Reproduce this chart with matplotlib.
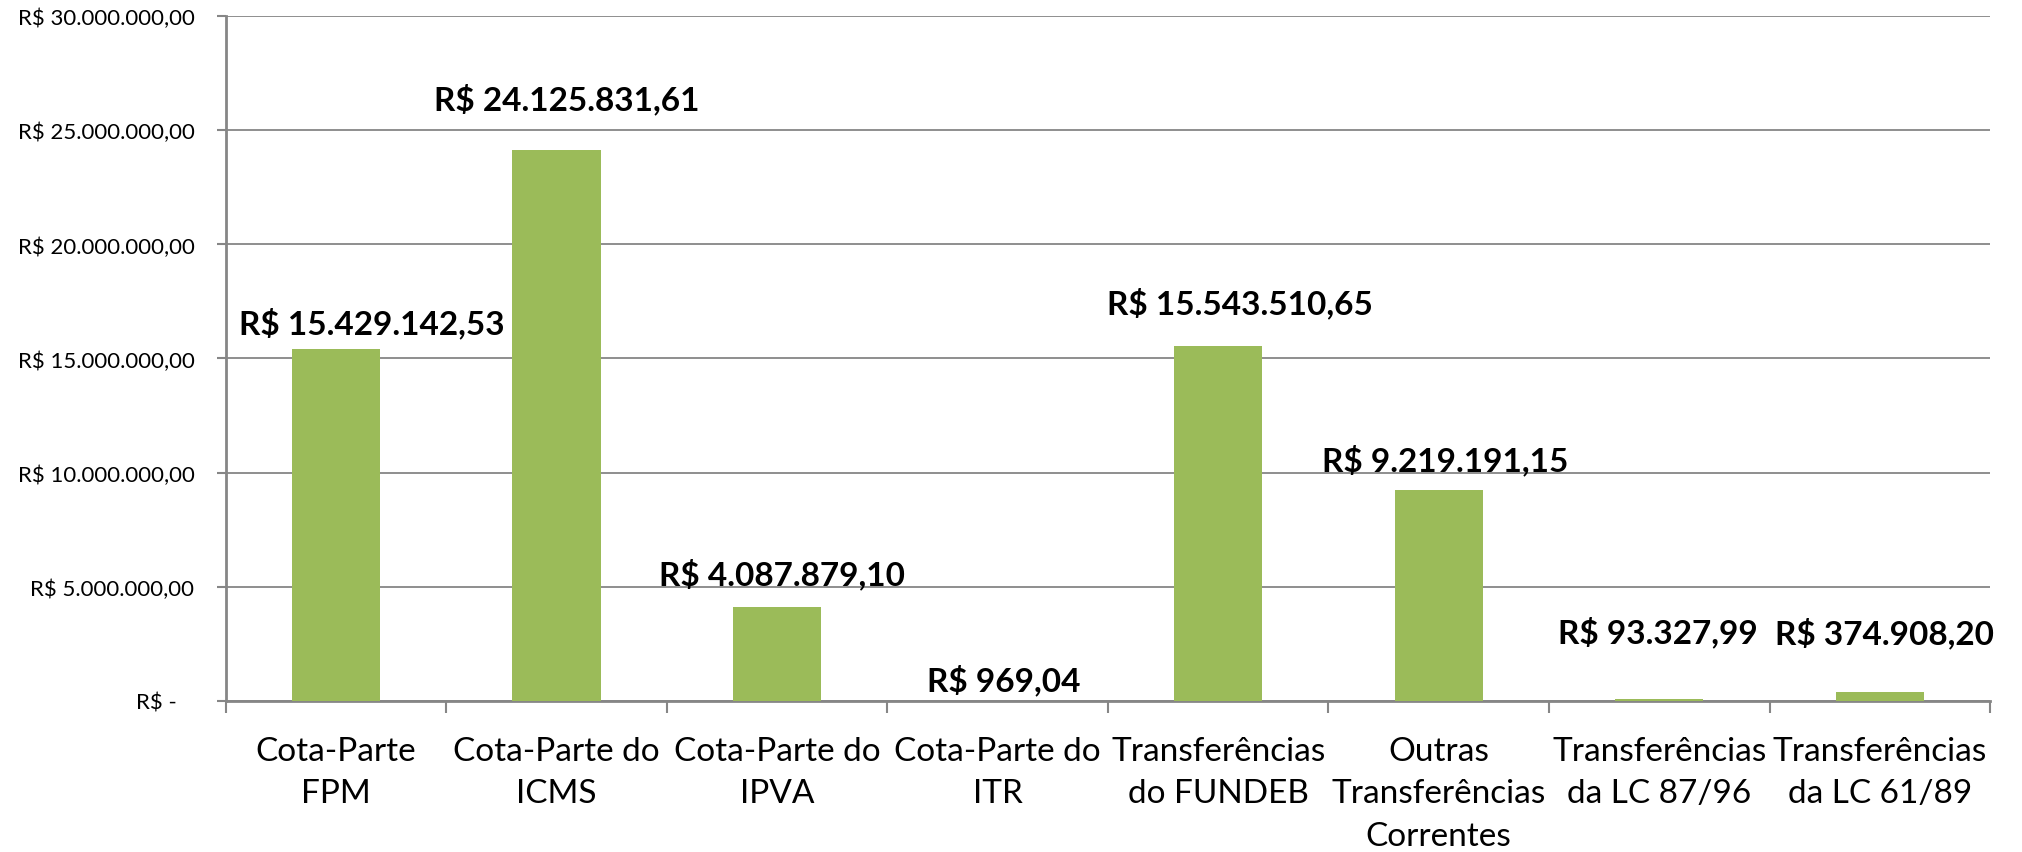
import matplotlib
matplotlib.use("Agg")
import matplotlib.pyplot as plt
import numpy as np

plt.rcParams['font.family'] = ['Lato', 'DejaVu Sans']

# data
categories = [
    "Cota-Parte\nFPM",
    "Cota-Parte do\nICMS",
    "Cota-Parte do\nIPVA",
    "Cota-Parte do\nITR",
    "Transferências\ndo FUNDEB",
    "Outras\nTransferências\nCorrentes",
    "Transferências\nda LC 87/96",
    "Transferências\nda LC 61/89",
]
values = [15429142.53, 24125831.61, 4087879.10, 969.04,
          15543510.65, 9219191.15, 93327.99, 374908.20]
yticks = [0, 5e6, 10e6, 15e6, 20e6, 25e6, 30e6]

# label offsets (pixels) as they were hand-placed in the original sheet
label_dx = [36, 10, 5, 6, 22, 7, -1, 5]
label_dy = [15, 41, 23, 10, 33, 20, 56, 49]

bar_color = "#9BBB59"
axis_color = "#868686"


def brl(v, decimals=2):
    s = f"{v:,.{decimals}f}"
    s = s.replace(",", "X").replace(".", ",").replace("X", ".")
    return "R$ " + s


fig = plt.figure(figsize=(20.22, 8.53), dpi=100)
ax = fig.add_axes([0.1116, 0.1774, 0.8726, 0.8023])

x = np.arange(len(categories))
ax.bar(x, values, width=0.40, color=bar_color, zorder=3)

ax.set_xlim(-0.5, len(categories) - 0.5)
ax.set_ylim(0, 30e6)

# y axis
ax.set_yticks(yticks)
ax.set_yticklabels([brl(v) if v > 0 else "R$ -   " for v in yticks], fontsize=16)
ax.tick_params(axis='y', length=6.5, width=1.5, color=axis_color, pad=16)
ax.grid(axis='y', color=axis_color, linewidth=1.3, zorder=0)

# x axis: ticks on the category boundaries, labels at the centres
ax.set_xticks(np.arange(len(categories) + 1) - 0.5)
ax.set_xticklabels([])
ax.tick_params(axis='x', which='major', length=8.5, width=1.5, color=axis_color)
for i, cat in enumerate(categories):
    ax.annotate(cat, xy=(i, 0), xycoords=('data', 'axes fraction'),
                xytext=(0, -35), textcoords='offset pixels',
                ha='center', va='top', fontsize=24, linespacing=1.52)

for side in ['top', 'right']:
    ax.spines[side].set_visible(False)
for side in ['left', 'bottom']:
    ax.spines[side].set_color(axis_color)
    ax.spines[side].set_linewidth(2)

# data labels
for i, v in enumerate(values):
    ax.annotate(brl(v), xy=(i, v), xytext=(label_dx[i], label_dy[i]),
                textcoords='offset pixels', ha='center', va='baseline',
                fontsize=24, fontweight='bold', zorder=5)

fig.savefig("out.png", dpi=100, facecolor='white')
